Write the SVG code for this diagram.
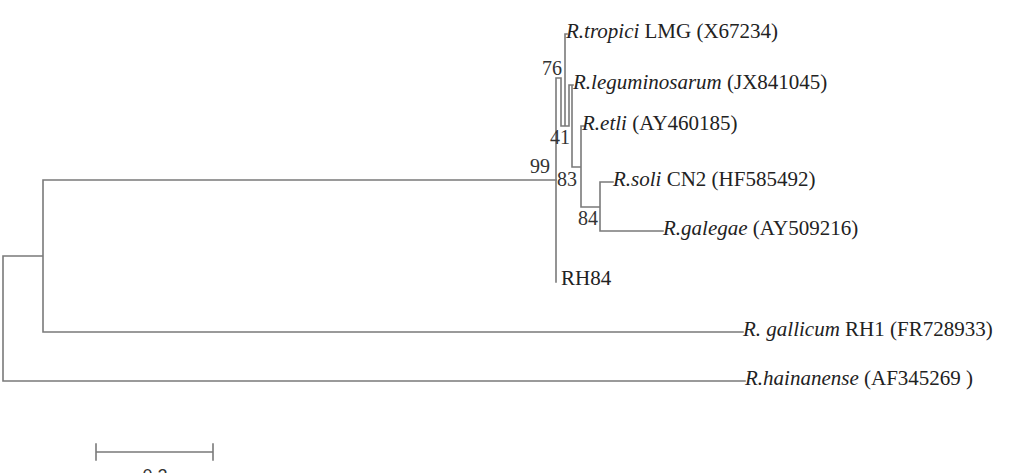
<svg xmlns="http://www.w3.org/2000/svg" width="1010" height="473" viewBox="0 0 1010 473">
<style>
.br{fill:none;stroke:#7a7a7a;stroke-width:1.6;stroke-linecap:square}
.lb{font-family:"Liberation Serif","Times New Roman",serif;font-size:21px;fill:#222}
.bs{font-family:"Liberation Serif","Times New Roman",serif;font-size:20px;fill:#333}
.it{font-style:italic}
.sc{font-family:"Liberation Sans",Arial,sans-serif;font-size:18px;fill:#333}
</style>
<rect width="1010" height="473" fill="#fff"/>
<g id="connectors">
<path class="br" d="M3,256 V381 H745 M3,256 H43 M43,180 V332 H743 M43,180 H556"/>
<path class="br" d="M556,78 V282 M556,78 H561 V126 H569 M565,34 H567 M565,34 V126 M569,85 V126 M569,85 H573 M572,85 V167 H581 M581,126 H584 M581,126 V207 H600 M600,182 V231 M600,182 H613 M600,231 H663"/>
</g>
<g id="node-tropici"><text class="lb" x="566" y="38"><tspan class="it">R.tropici</tspan> LMG (X67234)</text></g>
<g id="node-leguminosarum"><text class="lb" x="573" y="89"><tspan class="it">R.leguminosarum</tspan> (JX841045)</text></g>
<g id="node-etli"><text class="lb" x="582" y="130"><tspan class="it">R.etli</tspan> (AY460185)</text></g>
<g id="node-soli"><text class="lb" x="613" y="186"><tspan class="it">R.soli</tspan> CN2 (HF585492)</text></g>
<g id="node-galegae"><text class="lb" x="663" y="235"><tspan class="it">R.galegae</tspan> (AY509216)</text></g>
<g id="node-RH84"><text class="lb" x="561" y="285">RH84</text></g>
<g id="node-gallicum"><text class="lb" x="743" y="336"><tspan class="it">R. gallicum</tspan> RH1 (FR728933)</text></g>
<g id="node-hainanense"><text class="lb" x="745" y="385"><tspan class="it">R.hainanense</tspan> (AF345269 )</text></g>
<g id="bootstrap">
<text class="bs" x="542" y="75">76</text>
<text class="bs" x="550" y="144">41</text>
<text class="bs" x="530" y="173">99</text>
<text class="bs" x="557" y="186">83</text>
<text class="bs" x="578" y="225">84</text>
</g>
<g id="scale-bar">
<path class="br" d="M96,452 H213 M96,444 V460 M213,444 V460"/>
<text class="sc" x="155" y="482" text-anchor="middle">0.2</text>
</g>
</svg>
